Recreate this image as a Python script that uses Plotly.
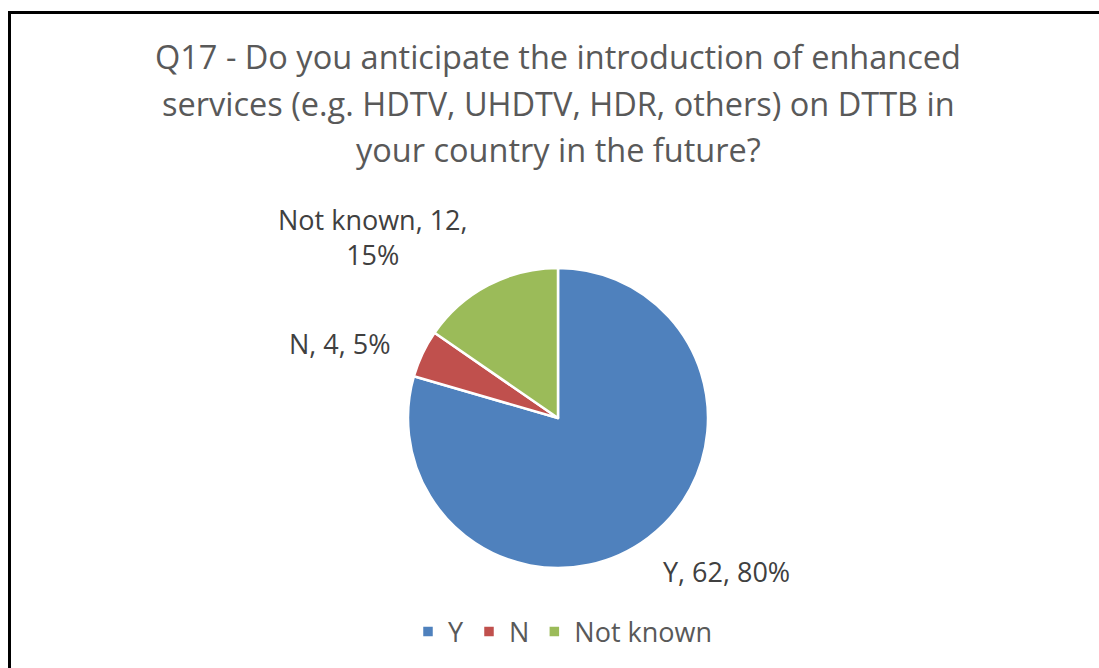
import plotly.graph_objects as go

# Survey answers for Q17
answers = ["Y", "N", "Not known"]
counts = [62, 4, 12]
colors = ["#4F81BD", "#C0504D", "#9BBB59"]

title_lines = [
    "Q17 - Do you anticipate the introduction of enhanced",
    "services (e.g. HDTV, UHDTV, HDR, others) on DTTB in",
    "your country in the future?",
]

W, H = 1099, 668
FONT = "Open Sans"
TEXT_COLOR = "#595959"
LABEL_COLOR = "#404040"


def whole_percents(values):
    """Round shares to whole percents that still add up to 100
    (largest-remainder rounding)."""
    total = sum(values)
    raw = [100 * v / total for v in values]
    base = [int(r) for r in raw]
    short = 100 - sum(base)
    order = sorted(range(len(raw)), key=lambda i: raw[i] - base[i], reverse=True)
    for i in order[:short]:
        base[i] += 1
    return base


pct = whole_percents(counts)

fig = go.Figure(
    go.Pie(
        labels=answers,
        values=counts,
        marker=dict(colors=colors, line=dict(color="white", width=2.5)),
        sort=False,
        direction="clockwise",
        rotation=0,
        textinfo="none",
        hoverinfo="label+value+percent",
        domain=dict(x=[(558 - 150) / W, (558 + 150) / W],
                    y=[(H - 568) / H, (H - 268) / H]),
    )
)

annotations = []
# title lines
for i, line in enumerate(title_lines):
    annotations.append(dict(
        text=line, x=558 / W, y=1 - (57 + 46 * i) / H,
        xref="paper", yref="paper", xanchor="center", yanchor="middle",
        showarrow=False, font=dict(family=FONT, size=32.5, color=TEXT_COLOR),
    ))

# data labels: "category, value, percent"
label_pos = {
    "Y": (726, 571),
    "N": (340, 343),
    "Not known": (373, 237),
}
for name, c, p in zip(answers, counts, pct):
    if name == "Not known":
        txt = f"{name}, {c},<br>{p}%"
    else:
        txt = f"{name}, {c}, {p}%"
    x, y = label_pos[name]
    annotations.append(dict(
        text=txt, x=x / W, y=1 - y / H, xref="paper", yref="paper",
        xanchor="center", yanchor="middle", showarrow=False,
        font=dict(family=FONT, size=27, color=LABEL_COLOR),
    ))

fig.update_layout(
    width=W, height=H,
    margin=dict(l=0, r=0, t=0, b=0),
    paper_bgcolor="white",
    plot_bgcolor="white",
    showlegend=True,
    legend=dict(
        orientation="h", x=563 / W, y=1 - 632 / H,
        xanchor="center", yanchor="middle",
        font=dict(family=FONT, size=27, color=TEXT_COLOR),
        itemwidth=30,
    ),
    annotations=annotations,
    shapes=[dict(
        type="rect", xref="paper", yref="paper",
        x0=9.5 / W, x1=1.05, y0=-0.05, y1=1 - 12.5 / H,
        line=dict(color="black", width=3),
    )],
)

fig.write_html("out.html")
